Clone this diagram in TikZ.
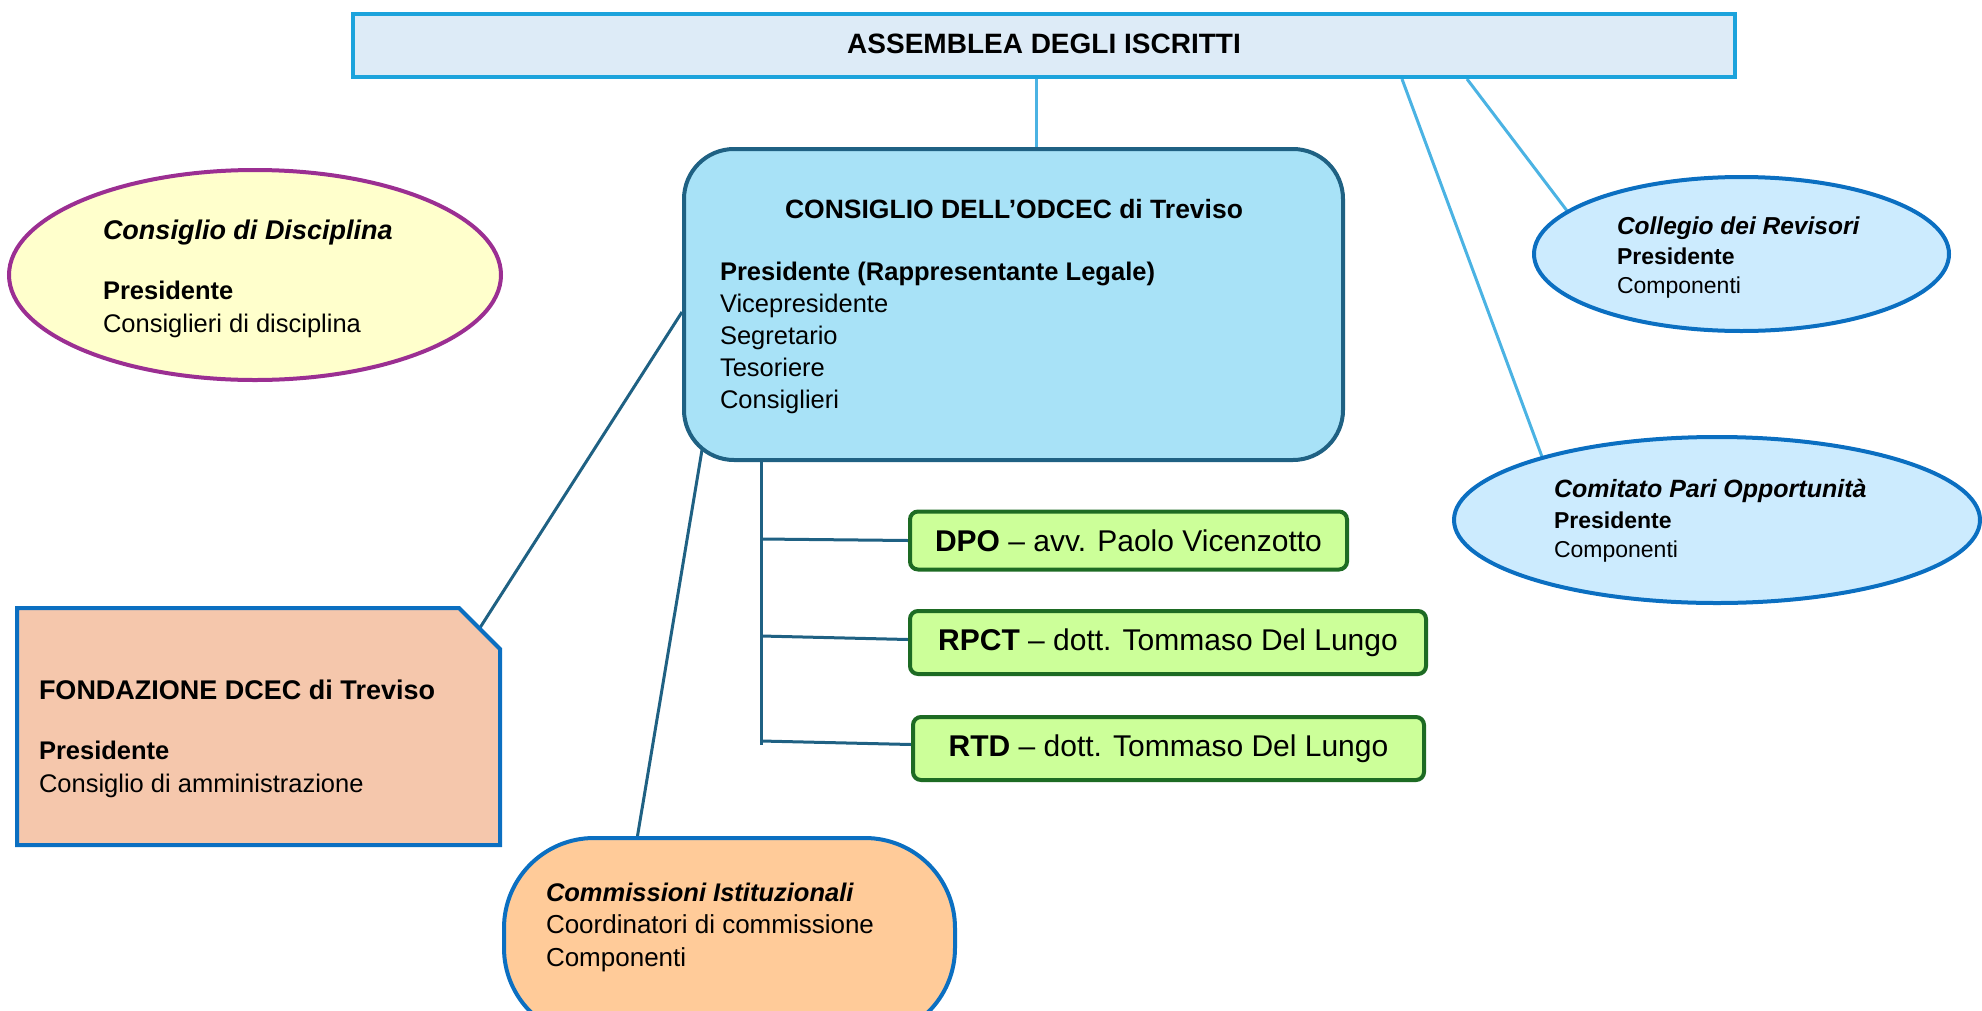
\documentclass[tikz,border=0pt]{standalone}
\usepackage{fontspec}
\setmainfont{Liberation Sans}
\usetikzlibrary{calc,shapes.geometric}
\pgfdeclarelayer{background}
\pgfsetlayers{background,main}
\definecolor{assfill}{HTML}{DDEBF7}
\definecolor{assline}{HTML}{1CA3DC}
\definecolor{lightconn}{HTML}{4BB3E3}
\definecolor{councilfill}{HTML}{A8E2F7}
\definecolor{councilline}{HTML}{1F6183}
\definecolor{discfill}{HTML}{FFFFCC}
\definecolor{discline}{HTML}{9B2F92}
\definecolor{ellfill}{HTML}{CCEBFE}
\definecolor{blueline}{HTML}{0B6FC1}
\definecolor{fondfill}{HTML}{F5C7AC}
\definecolor{commfill}{HTML}{FFCB99}
\definecolor{greenfill}{HTML}{CCFF99}
\definecolor{greenline}{HTML}{1D6B23}
\newcommand\fsz[1]{\fontsize{#1}{#1}\selectfont}
\begin{document}
\begin{tikzpicture}[x=1pt,y=-1pt,
  tx/.style={anchor=base west, inner sep=0pt, outer sep=0pt},
  txc/.style={anchor=base, inner sep=0pt, outer sep=0pt},
  assbox/.style={draw=assline, fill=assfill, line width=4pt, inner sep=0pt, minimum width=1382pt, minimum height=63pt},
  councilbox/.style={draw=councilline, fill=councilfill, line width=4pt, rounded corners=50pt, inner sep=0pt, minimum width=659pt, minimum height=311pt},
  discell/.style={ellipse, draw=discline, fill=discfill, line width=4pt, inner sep=0pt},
  blueell/.style={ellipse, draw=blueline, fill=ellfill, line width=4pt, inner sep=0pt},
  fondarea/.style={inner sep=0pt, outer sep=0pt, minimum width=483pt, minimum height=237pt},
  fondshape/.style={draw=blueline, fill=fondfill, line width=4pt},
  commbox/.style={draw=blueline, fill=commfill, line width=4pt, rounded corners=90pt, inner sep=0pt, minimum width=451pt, minimum height=200pt},
  greenbox/.style={draw=greenline, fill=greenfill, line width=4pt, rounded corners=8pt, inner sep=0pt, font=\fsz{30}},
  lightline/.style={draw=lightconn, line width=3pt},
  darkline/.style={draw=councilline, line width=3pt},
  ttl/.style={font=\bfseries\fsz{#1}},
  ttli/.style={font=\bfseries\itshape\fsz{#1}},
  body/.style={font=\fsz{#1}},
  bodyb/.style={font=\bfseries\fsz{#1}}
]
\useasboundingbox (0,0) rectangle (1982,1010);
\clip (0,0) rectangle (1982,1010);

% Assemblea
\node[assbox] (ass) at (1044,45.5) {};
\node[txc, ttl=28] (asstxt) at (1044,53) {ASSEMBLEA DEGLI ISCRITTI};

% Consiglio dell'ODCEC
\node[councilbox] (council) at (1013.5,304.5) {};
\node[txc, ttl=26.5] (ctitle) at (1014,218) {CONSIGLIO DELL’ODCEC di Treviso};
\node[tx, bodyb=25.5] (c1) at (720,280) {Presidente (Rappresentante Legale)};
\node[tx, body=25.5] (c2) at (720,312) {Vicepresidente};
\node[tx, body=25.5] (c3) at (720,344) {Segretario};
\node[tx, body=25.5] (c4) at (720,376) {Tesoriere};
\node[tx, body=25.5] (c5) at (720,408) {Consiglieri};

% Consiglio di Disciplina
\node[discell, minimum width=492pt, minimum height=210pt] (disc) at (255,275) {};
\node[tx, ttli=27] (d1) at (103,239) {Consiglio di Disciplina};
\node[tx, bodyb=25.5] (d2) at (103,299) {Presidente};
\node[tx, body=25.5] (d3) at (103,332) {Consiglieri di disciplina};

% Collegio dei Revisori
\node[blueell, minimum width=415pt, minimum height=154pt] (coll) at (1741.5,254) {};
\node[tx, ttli=24.5] (r1) at (1617,234) {Collegio dei Revisori};
\node[tx, bodyb=23] (r2) at (1617,264) {Presidente};
\node[tx, body=23] (r3) at (1617,293) {Componenti};

% Comitato Pari Opportunita
\node[blueell, minimum width=526pt, minimum height=166pt] (comi) at (1717,520) {};
\node[tx, ttli=25] (p1) at (1554,497) {Comitato Pari Opportunità};
\node[tx, bodyb=23] (p2) at (1554,528) {Presidente};
\node[tx, body=23] (p3) at (1554,557) {Componenti};

% Fondazione
\node[fondarea] (fond) at (258.5,726.5) {};
\draw[fondshape] (fond.south west) -- (fond.north west) -- ($(fond.north east)+(-41,0)$) -- ($(fond.north east)+(0,41)$) -- (fond.south east) -- cycle;
\coordinate (fondcut) at ($(fond.north east)+(-20.5,20.5)$);
\node[tx, ttl=27] (f1) at (39,699) {FONDAZIONE DCEC di Treviso};
\node[tx, bodyb=25.5] (f2) at (39,759) {Presidente};
\node[tx, body=25.5] (f3) at (39,792) {Consiglio di amministrazione};

% Commissioni
\node[commbox] (comm) at (729.5,938) {};
\node[tx, ttli=25.5] (m1) at (546,901) {Commissioni Istituzionali};
\node[tx, body=26] (m2) at (546,933) {Coordinatori di commissione};
\node[tx, body=26] (m3) at (546,966) {Componenti};

% Green boxes
\node[greenbox, minimum width=437pt, minimum height=58pt] (dpo) at (1128.5,540.5) {\textbf{DPO} – avv. Paolo Vicenzotto};
\node[greenbox, minimum width=516pt, minimum height=63pt] (rpct) at (1168,642.5) {\textbf{RPCT} – dott. Tommaso Del Lungo};
\node[greenbox, minimum width=511pt, minimum height=63pt] (rtd) at (1168.5,748.5) {\textbf{RTD} – dott. Tommaso Del Lungo};

\coordinate (tb) at ($(council.south west)+(79,283)$);

\begin{pgfonlayer}{background}
\draw[lightline] ($(ass.south)+(-8,0)$) -- ($(council.north)+(22.5,0)$);
\draw[lightline] ($(ass.south)+(358,0)$) -- (comi.160.7);
\draw[lightline] ($(ass.south)+(423,0)$) -- (coll.166);
\draw[darkline] ($(council.west)+(0,7.5)$) -- (fondcut);
\draw[darkline] ($(council.south west)+(20,-12)$) -- ($(comm.north)+(-92,0)$);
\draw[darkline] ($(council.south west)+(79,-4)$) -- (tb);
\draw[darkline] ($(tb)+(0,-206)$) -- (dpo.west);
\draw[darkline] ($(tb)+(0,-109)$) -- ($(rpct.west)+(0,-3)$);
\draw[darkline] ($(tb)+(0,-4)$) -- ($(rtd.west)+(0,-4)$);
\end{pgfonlayer}
\end{tikzpicture}
\end{document}
